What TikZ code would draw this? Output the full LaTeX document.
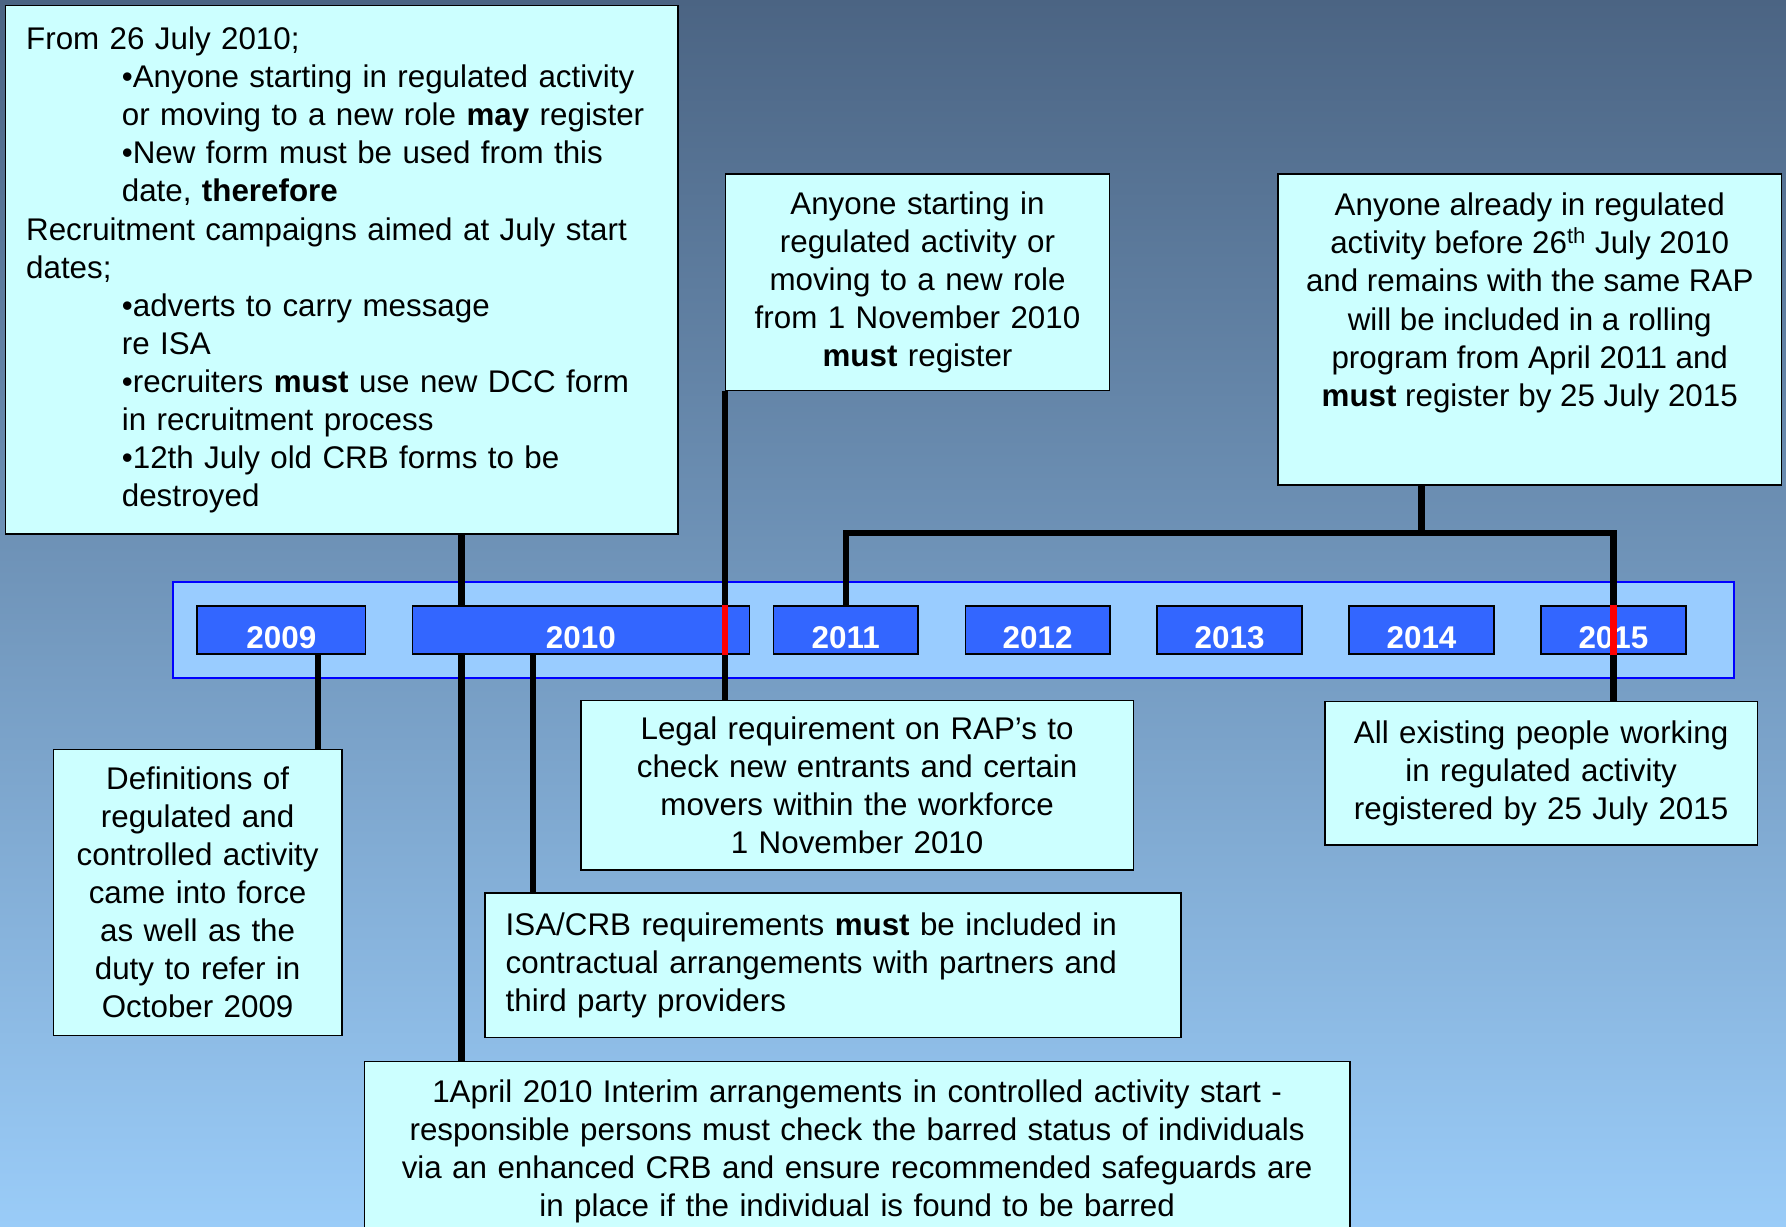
\documentclass[tikz,border=0pt]{standalone}
\usepackage{fontspec}
\setmainfont{Liberation Sans}
\usetikzlibrary{positioning}
\definecolor{boxcyan}{HTML}{CCFFFF}
\definecolor{yearblue}{HTML}{3366FF}
\definecolor{bandblue}{HTML}{99CCFF}
\definecolor{bgtop}{HTML}{4B6483}
\definecolor{bgbot}{HTML}{9ACCF8}

\begin{document}
\begin{tikzpicture}
\tikzset{
note/.style={draw,line width=0.8pt,fill=boxcyan,align=center,inner xsep=0.36cm,inner ysep=0.1cm},
yearbox/.style={draw,line width=0.8pt,fill=yearblue,text=white,font={\fontsize{15.7pt}{19pt}\selectfont\bfseries},
  minimum height=0.84cm,inner xsep=0pt,inner ysep=2.8pt,text height=18.2pt,text depth=0pt},
link/.style={line width=3.2pt},
redmark/.style={line width=3.2pt,red},
font={\fontsize{15.65pt}{19pt}\selectfont}
}

\useasboundingbox (0,0) rectangle (31.36,-21.54);
\shade[top color=bgtop,bottom color=bgbot] (0,0) rectangle (31.36,-21.54);

% time band
\node[draw=blue,line width=1pt,fill=bandblue,minimum width=27.40cm,minimum height=1.68cm] (band) at (16.74,-11.06) {};
\node[yearbox,minimum width=2.96cm] (y2009) at (4.94,-11.06) {2009};
\node[yearbox,minimum width=5.92cm] (y2010) at (10.20,-11.06) {2010};
\foreach \yr [count=\i from 0] in {2011,...,2015}
  \node[yearbox,minimum width=2.54cm] (y\yr) at (14.85+3.37*\i,-11.06) {\yr};

% notes above
\node[note,align=left,text width=11.08cm,minimum height=9.28cm] (news) at (6.00,-4.74)
{From 26 July 2010;\\
\hspace*{1.68cm}•Anyone starting in regulated activity\\
\hspace*{1.68cm}or moving to a new role \textbf{may} register\\
\hspace*{1.68cm}•New form must be used from this\\
\hspace*{1.68cm}date, \textbf{therefore}\\
Recruitment campaigns aimed at July start\\
dates;\\
\hspace*{1.68cm}•adverts to carry message\\
\hspace*{1.68cm}re ISA\\
\hspace*{1.68cm}•recruiters \textbf{must} use new DCC form\\
\hspace*{1.68cm}in recruitment process\\
\hspace*{1.68cm}•12th July old CRB forms to be\\
\hspace*{1.68cm}destroyed};
\node[note,text width=6.02cm,minimum height=3.80cm] (start) at (16.11,-4.96)
{Anyone starting in\\ regulated activity or\\ moving to a new role\\ from 1 November 2010\\ \textbf{must} register};
\node[note,minimum width=8.84cm,minimum height=5.46cm] (later) at (26.86,-5.79) {};
\node[below=0.34cm of later.north,align=center,inner sep=0pt] (latertext)
{Anyone already in regulated\\ activity before 26\textsuperscript{th} July 2010\\ and remains with the same RAP\\
will be included in a rolling\\ program from April 2011 and\\ \textbf{must} register by 25 July 2015};

% notes below
\node[note,text width=4.34cm,minimum height=5.02cm] (define) at (3.47,-15.67)
{Definitions of\\ regulated and\\ controlled activity\\ came into force\\ as well as the\\ duty to refer in\\ October 2009};
\node[note,text width=8.98cm,minimum height=2.98cm] (legal) at (15.05,-13.79)
{Legal requirement on RAP’s to\\ check new entrants and certain\\ movers within the workforce\\ 1 November 2010};
\node[note,text width=6.88cm,minimum height=2.52cm] (allreg) at (27.06,-13.58)
{All existing people working\\ in regulated activity\\ registered by 25 July 2015};
\node[note,align=left,text width=11.50cm,minimum height=2.54cm] (contract) at (14.63,-16.95)
{ISA/CRB requirements \textbf{must} be included in\\ contractual arrangements with partners and\\ third party providers};
\node[note,text width=16.58cm,minimum height=3.16cm] (interim) at (15.05,-20.22)
{1April 2010 Interim arrangements in controlled activity start -\\ responsible persons must check the barred status of individuals\\
via an enhanced CRB and ensure recommended safeguards are\\ in place if the individual is found to be barred};

% connectors
\coordinate (dropA) at (8.10,0);
\coordinate (dropG) at (9.36,0);
\coordinate (drop9) at (5.58,0);
\coordinate (bar) at (24.96,-9.36);

\draw[link] (news.south -| dropA) -- (y2010.north -| dropA);
\draw[link] (y2010.south -| dropA) -- (interim.north -| dropA);
\draw[link] (y2010.south -| dropG) -- (contract.north -| dropG);
\draw[link] (y2009.south -| drop9) -- (define.north -| drop9);
\draw[link] (start.south west) -- (legal.north -| start.south west);
\draw[link] (later.south -| bar) -- (bar);
\draw[link] (y2011.north) |- (bar) -| (allreg.north -| y2015.south);
\draw[redmark] (y2010.north -| start.south west) -- (y2010.south -| start.south west);
\draw[redmark] (y2015.north) -- (y2015.south);
\end{tikzpicture}
\end{document}
